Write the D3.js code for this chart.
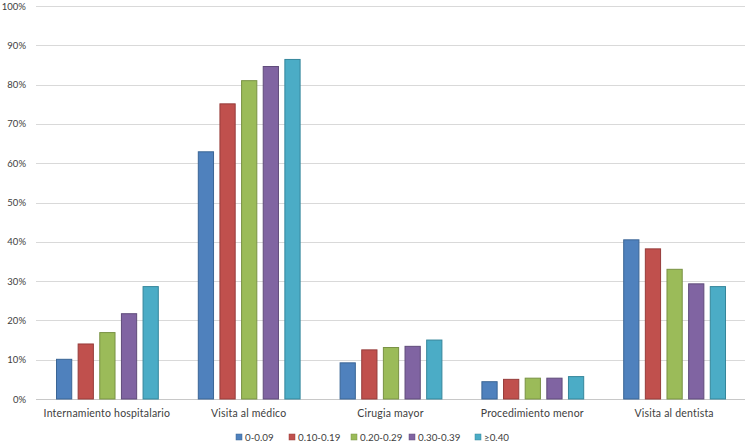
<!DOCTYPE html>
<html><head><meta charset="utf-8">
<script src="https://cdn.jsdelivr.net/npm/d3@7"></script>
<style>
body{margin:0;background:#fff;}
svg{display:block;font-family:Lato,"Open Sans",sans-serif;}
</style></head>
<body><svg id="c" width="745" height="445"></svg>
<script>
const categories = ["Internamiento hospitalario","Visita al médico","Cirugia mayor","Procedimiento menor","Visita al dentista"];
const seriesNames = ["0-0.09","0.10-0.19","0.20-0.29","0.30-0.39","≥0.40"];
const colors = ["#4F81BD","#C0504D","#9BBB59","#8064A2","#4BACC6"];
const strokes = ["#3A6595","#963C3A","#799244","#5F4B7A","#35869B"];
const s1 = [10.1, 62.9, 9.2, 4.4, 40.5];
const s2 = [14.0, 75.1, 12.5, 5.0, 38.2];
const s3 = [16.9, 81.0, 13.1, 5.3, 33.0];
const s4 = [21.7, 84.6, 13.4, 5.3, 29.3];
const s5 = [28.6, 86.4, 15.0, 5.7, 28.6];
const series = [s1,s2,s3,s4,s5];
const yTicks = [0,10,20,30,40,50,60,70,80,90,100];

(function(){
const svg = d3.select("#c");
const pL = 36, pR = 745, pT = 6, pB = 399;
const y = d3.scaleLinear().domain([0,100]).range([pB, pT]);
const x0 = d3.scaleBand().domain(categories).range([pL, pR]).padding(0);
const step = x0.bandwidth();
const x1 = d3.scaleBand().domain(seriesNames).range([20, step-19]).paddingInner(0.25).paddingOuter(0);

svg.append("g").selectAll("line").data(yTicks).join("line")
  .attr("x1", pL).attr("x2", pR)
  .attr("y1", d=>Math.round(y(d))+0.5).attr("y2", d=>Math.round(y(d))+0.5)
  .attr("stroke", d=> d===0 ? "#c8c8c8" : "#d9d9d9").attr("stroke-width",1);

svg.append("g").selectAll("text").data(yTicks).join("text")
  .attr("x", 26).attr("y", d=>y(d)+3.5).attr("text-anchor","end")
  .attr("font-size", 9.5).attr("fill","#404040").text(d=>d+"%");

const g = svg.append("g");
categories.forEach((c,ci)=>{
  series.forEach((s,si)=>{
    g.append("rect")
      .attr("x", x0(c)+x1(seriesNames[si])+0.5)
      .attr("y", y(s[ci]))
      .attr("width", x1.bandwidth()-1)
      .attr("height", y(0)-y(s[ci]))
      .attr("fill", colors[si]).attr("stroke", strokes[si]).attr("stroke-width",1);
  });
});

svg.append("g").selectAll("text").data(categories).join("text")
  .attr("x", d=>x0(d)+step/2).attr("y", 417).attr("text-anchor","middle")
  .attr("font-size", 10.5).attr("letter-spacing", 0.2).attr("fill","#404040").text(d=>d);

const legX = [236, 289, 351, 409, 475];
const leg = svg.append("g");
seriesNames.forEach((n,i)=>{
  leg.append("rect").attr("x", legX[i]).attr("y", 434).attr("width",6).attr("height",6)
    .attr("fill", colors[i]).attr("stroke", strokes[i]).attr("stroke-width",0.5);
  leg.append("text").attr("x", legX[i]+9).attr("y", 440.5).attr("font-size",9.8)
    .attr("fill","#404040").text(n);
});
})();
</script></body></html>
